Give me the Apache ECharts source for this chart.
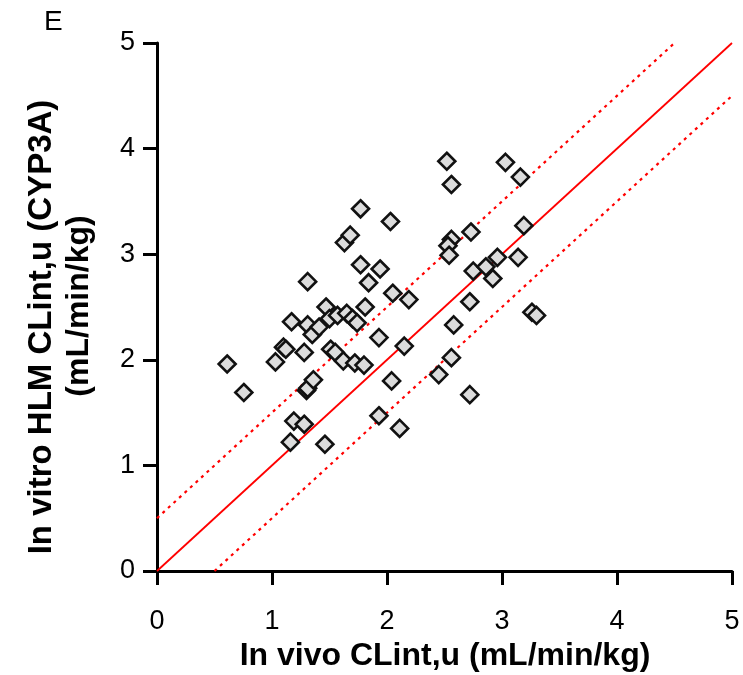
<!DOCTYPE html>
<html>
<head>
<meta charset="utf-8">
<script src="https://cdn.jsdelivr.net/npm/echarts@6/dist/echarts.min.js"></script>
<style>html,body{margin:0;padding:0;background:#fff;}#c{width:743px;height:675px;}</style>
</head>
<body>
<div id="c"></div>
<script>
// In vivo CLint,u (x) and in vitro HLM CLint,u (y)
var inVivo = [0.61,0.755,1.03,1.10,1.12,1.17,1.16,1.19,1.28,1.30,1.31,1.36,1.28,1.31,1.35,1.41,1.31,1.46,1.47,1.50,1.51,1.55,1.57,1.62,1.65,1.70,1.74,1.72,1.80,1.81,1.84,1.77,1.94,1.93,1.93,1.63,1.68,1.77,2.03,2.05,2.04,2.11,2.15,2.19,2.45,2.56,2.58,2.52,2.56,2.56,2.53,2.54,2.72,2.72,2.73,2.75,2.86,2.92,2.96,3.03,3.14,3.16,3.19,3.26,3.30];
var inVitro = [1.96,1.69,1.98,2.12,2.10,2.36,1.22,1.42,1.39,1.71,1.73,1.81,2.07,2.33,2.24,2.31,2.74,1.20,2.50,2.39,2.10,2.07,2.42,1.99,2.44,2.39,2.35,1.97,1.95,2.50,2.73,2.90,2.86,2.21,1.47,3.11,3.18,3.43,3.31,2.63,1.80,1.35,2.13,2.57,1.86,2.02,2.33,3.88,3.66,3.14,3.08,2.99,1.67,2.55,3.21,2.84,2.88,2.77,2.97,3.87,2.97,3.73,3.27,2.45,2.42];
var axisTicks = [0,1,2,3,4,5];
// reference lines: unity and +/-0.5
var unityX = [0,5], unityY = [0,5];
var upperX = [0,4.5], upperY = [0.5,5];
var lowerX = [0.5,5], lowerY = [0,4.5];

function pairs(a,b){return a.map(function(v,i){return [v,b[i]];});}

var chart = echarts.init(document.getElementById('c'), null, {renderer:'canvas'});
var FONT = '"Liberation Sans", Arial, sans-serif';
var axisCommon = {
  type:'value', min:axisTicks[0], max:axisTicks[axisTicks.length-1], interval:1,
  axisLine:{show:true, onZero:false, lineStyle:{color:'#000', width:3}},
  axisTick:{show:true, length:14, lineStyle:{color:'#000', width:3}},
  splitLine:{show:false},
  axisLabel:{color:'#000', fontSize:27, fontFamily:FONT}
};
chart.setOption({
  animation:false,
  backgroundColor:'#fff',
  grid:{left:157, right:11, top:43, bottom:104},
  xAxis: Object.assign({}, axisCommon, {axisLabel:Object.assign({}, axisCommon.axisLabel, {margin:37})}),
  yAxis: Object.assign({}, axisCommon, {axisLabel:Object.assign({}, axisCommon.axisLabel, {margin:22})}),
  graphic:[
    {type:'text', left:44, top:8, style:{text:'E', fontSize:28, fontFamily:FONT, fill:'#000'}},
    {type:'text', x:445, y:656, style:{text:'In vivo CLint,u (mL/min/kg)', fontSize:32, fontWeight:'bold', fontFamily:FONT, fill:'#000', align:'center', verticalAlign:'middle'}},
    {type:'text', x:42, y:327, rotation:Math.PI/2, style:{text:'In vitro HLM CLint,u (CYP3A)', fontSize:33, fontWeight:'bold', fontFamily:FONT, fill:'#000', align:'center', verticalAlign:'middle'}},
    {type:'text', x:79, y:306, rotation:Math.PI/2, style:{text:'(mL/min/kg)', fontSize:32, fontWeight:'bold', fontFamily:FONT, fill:'#000', align:'center', verticalAlign:'middle'}}
  ],
  series:[
    {type:'line', data:pairs(unityX,unityY), symbol:'none', lineStyle:{color:'#ff0000', width:1.8}, z:2},
    {type:'line', data:pairs(upperX,upperY), symbol:'none', lineStyle:{color:'#ff0000', width:2.2, type:[3,4.5]}, z:2},
    {type:'line', data:pairs(lowerX,lowerY), symbol:'none', lineStyle:{color:'#ff0000', width:2.2, type:[3,4.5]}, z:2},
    {type:'scatter', data:pairs(inVivo,inVitro), symbol:'diamond', symbolSize:17,
     itemStyle:{color:'#dcdcdc', borderColor:'#111', borderWidth:2.6, opacity:1}, z:3}
  ]
});
</script>
</body>
</html>
